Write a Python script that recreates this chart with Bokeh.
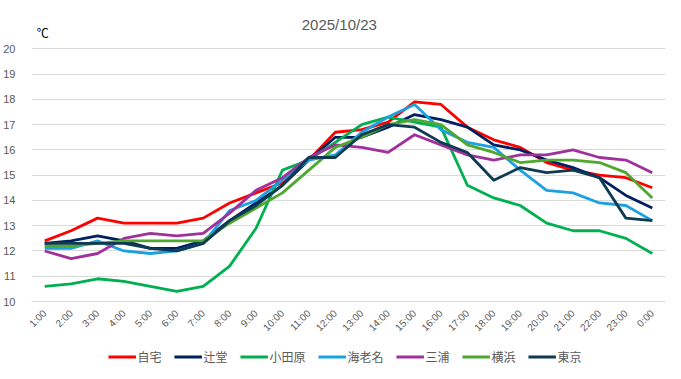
import math
from bokeh.plotting import figure
from bokeh.layouts import column
from bokeh.models import ColumnDataSource, Legend, LegendItem, FixedTicker, Range1d, FactorRange
from bokeh.core.properties import value
from bokeh.embed import file_html
from bokeh.resources import INLINE

hours = ["1:00", "2:00", "3:00", "4:00", "5:00", "6:00", "7:00", "8:00", "9:00", "10:00",
         "11:00", "12:00", "13:00", "14:00", "15:00", "16:00", "17:00", "18:00", "19:00",
         "20:00", "21:00", "22:00", "23:00", "0:00"]
y_ticks = [10, 11, 12, 13, 14, 15, 16, 17, 18, 19, 20]

jitaku = [12.4, 12.8, 13.3, 13.1, 13.1, 13.1, 13.3, 13.9, 14.3, 14.7, 15.6, 16.7, 16.8, 17.1,
          17.9, 17.8, 16.9, 16.4, 16.1, 15.5, 15.2, 15.0, 14.9, 14.5]
tsujido = [12.3, 12.4, 12.6, 12.4, 12.1, 12.1, 12.4, 13.2, 13.9, 14.6, 15.6, 16.5, 16.5, 16.9,
           17.4, 17.2, 16.9, 16.2, 16.0, 15.6, 15.3, 14.9, 14.2, 13.7]
odawara = [10.6, 10.7, 10.9, 10.8, 10.6, 10.4, 10.6, 11.4, 12.9, 15.2, 15.6, 16.3, 17.0, 17.3,
           17.1, 16.9, 14.6, 14.1, 13.8, 13.1, 12.8, 12.8, 12.5, 11.9]
ebina = [12.1, 12.1, 12.4, 12.0, 11.9, 12.0, 12.3, 13.6, 14.0, 14.8, 15.6, 15.8, 16.7, 17.3,
         17.8, 16.8, 16.3, 16.1, 15.2, 14.4, 14.3, 13.9, 13.8, 13.2]
miura = [12.0, 11.7, 11.9, 12.5, 12.7, 12.6, 12.7, 13.5, 14.4, 14.9, 15.7, 16.2, 16.1, 15.9,
         16.6, 16.2, 15.8, 15.6, 15.8, 15.8, 16.0, 15.7, 15.6, 15.1]
yokohama = [12.2, 12.2, 12.3, 12.4, 12.4, 12.4, 12.4, 13.1, 13.7, 14.3, 15.2, 16.1, 16.5, 17.0,
            17.2, 17.0, 16.2, 15.9, 15.5, 15.6, 15.6, 15.5, 15.1, 14.1]
tokyo = [12.3, 12.3, 12.3, 12.3, 12.1, 12.0, 12.3, 13.2, 13.8, 14.6, 15.7, 15.7, 16.6, 17.0,
         16.9, 16.3, 15.9, 14.8, 15.3, 15.1, 15.2, 14.9, 13.3, 13.2]

names = ["自宅", "辻堂", "小田原", "海老名", "三浦", "横浜", "東京"]
series = [jitaku, tsujido, odawara, ebina, miura, yokohama, tokyo]
colors = ["#FF0000", "#002060", "#00B050", "#1BA1E2", "#A0309B", "#4EA72E", "#0E3A52"]

p = figure(x_range=FactorRange(*hours), y_range=Range1d(10, 21.4),
           frame_width=634, frame_height=288,
           output_backend="svg", toolbar_location=None,
           min_border_left=24, min_border_right=7, min_border_top=13, min_border_bottom=0)
p.title = None
p.outline_line_color = None
p.background_fill_color = "white"
p.border_fill_color = "white"

# chart title and unit label, placed in data space above the 20 gridline
p.text(x=[hours[11]], y=[20.95], text=["2025/10/23"], x_offset=4,
       text_font=value("Liberation Sans"), text_font_size="15px", text_color="#595959",
       text_baseline="middle", text_align="center")
p.text(x=[hours[0]], y=[20.63], text=["℃"], x_offset=-8,
       text_font=value("Noto Sans CJK JP"), text_font_size="12px", text_color="#000000",
       text_baseline="middle", text_align="left")

for name, vals, col in zip(names, series, colors):
    src = ColumnDataSource(dict(x=hours, y=vals))
    p.line("x", "y", source=src, line_color=col, line_width=2.8, line_join="round")

p.yaxis.ticker = FixedTicker(ticks=y_ticks)
p.yaxis.axis_line_color = None
p.yaxis.major_tick_line_color = None
p.yaxis.minor_tick_line_color = None
p.yaxis.major_label_text_font = "Liberation Sans"
p.yaxis.major_label_text_font_size = "11px"
p.yaxis.major_label_text_color = "#595959"
p.yaxis.major_label_standoff = 10

p.xaxis.axis_line_color = "#d9d9d9"
p.xaxis.major_tick_line_color = None
p.xaxis.minor_tick_line_color = None
p.xaxis.major_label_orientation = math.pi / 4
p.xaxis.major_label_text_font = "Liberation Sans"
p.xaxis.major_label_text_font_size = "10px"
p.xaxis.major_label_text_color = "#595959"
p.xaxis.major_label_standoff = 4

p.xgrid.grid_line_color = None
p.ygrid.grid_line_color = "#d9d9d9"
p.ygrid.grid_line_width = 1

# legend row in its own strip below the chart (same series, drawn out of view)
lg = figure(width=665, height=28, output_backend="svg", toolbar_location=None,
            x_range=FactorRange(*hours), y_range=Range1d(30, 31),
            x_axis_location=None, y_axis_location=None,
            min_border_left=0, min_border_right=0, min_border_top=0, min_border_bottom=0)
lg.title = None
lg.outline_line_color = None
lg.xgrid.grid_line_color = None
lg.ygrid.grid_line_color = None
items = []
for name, vals, col in zip(names, series, colors):
    src = ColumnDataSource(dict(x=hours, y=vals))
    r = lg.line("x", "y", source=src, line_color=col, line_width=2.8)
    items.append(LegendItem(label=name, renderers=[r]))
legend = Legend(items=items, orientation="horizontal", location="center",
                label_text_font="Noto Sans CJK JP", label_text_font_size="12px",
                label_text_color="#595959", glyph_width=28, glyph_height=10,
                spacing=12, padding=0, margin=0, label_standoff=2,
                border_line_color=None, background_fill_alpha=0)
lg.add_layout(legend)

layout = column(p, lg, spacing=3)
open("out.html", "w").write(file_html(layout, INLINE))
